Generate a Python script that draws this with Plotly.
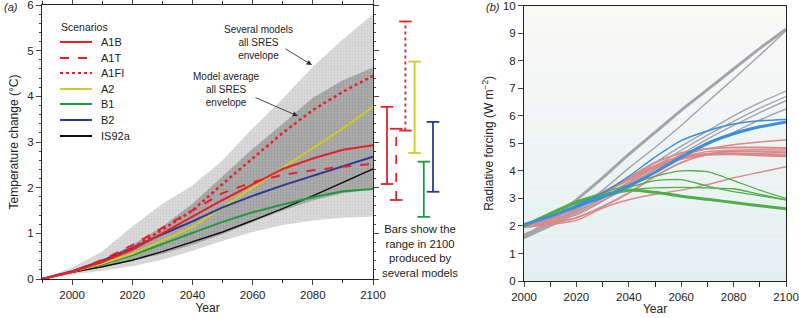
import plotly.graph_objects as go

W, H = 799, 318
def fx(p): return p / W
def fy(p): return 1 - p / H

# ---------------- Panel (a) data ----------------
years_a = [1990, 2000, 2010, 2020, 2030, 2040, 2050, 2060, 2070, 2080, 2090, 2100]
a1b  = [0, 0.16, 0.37, 0.64, 1.00, 1.36, 1.73, 2.07, 2.41, 2.64, 2.83, 2.93]
a1t  = [0, 0.16, 0.42, 0.74, 1.12, 1.50, 1.88, 2.12, 2.28, 2.38, 2.46, 2.52]
a1fi = [0, 0.16, 0.38, 0.68, 1.08, 1.50, 2.08, 2.65, 3.20, 3.70, 4.10, 4.45]
a2   = [0, 0.16, 0.34, 0.55, 0.84, 1.14, 1.57, 2.00, 2.43, 2.86, 3.30, 3.77]
b1   = [0, 0.16, 0.32, 0.52, 0.77, 1.01, 1.25, 1.46, 1.63, 1.79, 1.92, 1.97]
b2   = [0, 0.17, 0.40, 0.68, 0.98, 1.26, 1.57, 1.82, 2.05, 2.26, 2.48, 2.68]
is92a= [0, 0.15, 0.27, 0.41, 0.60, 0.82, 1.03, 1.28, 1.54, 1.82, 2.12, 2.41]

outer_hi = [0, 0.25, 0.60, 1.15, 1.65, 2.05, 2.60, 3.30, 3.95, 4.65, 5.25, 5.80]
outer_lo = [0, 0.10, 0.18, 0.28, 0.42, 0.62, 0.84, 1.03, 1.18, 1.28, 1.34, 1.37]
inner_hi = [0, 0.18, 0.42, 0.75, 1.15, 1.65, 2.25, 2.85, 3.40, 3.97, 4.35, 4.63]
inner_lo = [0, 0.13, 0.25, 0.40, 0.55, 0.75, 0.98, 1.25, 1.50, 1.72, 1.88, 1.97]

bar_names = ["A1B", "A1T", "A1FI", "A2", "B1", "B2"]
bar_low   = [2.08, 1.73, 3.25, 2.76, 1.36, 1.91]
bar_high  = [3.77, 3.29, 5.64, 4.76, 2.57, 3.44]

# ---------------- Panel (b) data ----------------
years_b = [2000, 2010, 2020, 2030, 2040, 2050, 2060, 2070, 2080, 2090, 2100]
gray_thick = [1.60, 2.20, 2.95, 3.75, 4.60, 5.40, 6.20, 6.95, 7.70, 8.45, 9.15]
gray_1 = [1.55, 2.00, 2.60, 3.30, 4.10, 4.85, 5.65, 6.50, 7.35, 8.20, 9.10]
gray_2 = [1.65, 2.10, 2.60, 3.15, 3.70, 4.30, 4.90, 5.45, 6.00, 6.48, 6.90]
gray_3 = [1.60, 2.05, 2.50, 3.00, 3.55, 4.15, 4.75, 5.30, 5.80, 6.28, 6.70]
gray_4 = [1.70, 2.10, 2.55, 3.00, 3.50, 4.05, 4.60, 5.15, 5.65, 6.12, 6.55]
gray_5 = [1.55, 1.98, 2.45, 2.92, 3.40, 3.92, 4.45, 4.95, 5.40, 5.85, 6.25]

pink_1 = [2.00, 2.30, 2.70, 3.20, 3.70, 4.20, 4.55, 4.80, 4.95, 5.05, 5.12]
pink_2 = [2.00, 2.25, 2.65, 3.15, 3.75, 4.30, 4.65, 4.80, 4.85, 4.85, 4.83]
pink_3 = [2.00, 2.30, 2.70, 3.20, 3.70, 4.15, 4.45, 4.60, 4.62, 4.60, 4.58]
pink_4 = [1.95, 2.20, 2.55, 3.00, 3.60, 4.10, 4.45, 4.60, 4.60, 4.55, 4.52]
pink_5 = [1.95, 2.15, 2.40, 2.90, 3.50, 4.05, 4.50, 4.70, 4.75, 4.77, 4.76]
pink_6 = [1.95, 2.05, 2.20, 2.65, 2.95, 3.15, 3.30, 3.50, 3.75, 3.95, 4.15]
pink_7 = [1.95, 2.10, 2.30, 2.70, 3.20, 3.80, 4.30, 4.60, 4.72, 4.70, 4.68]

green_thick = [2.00, 2.45, 2.85, 3.10, 3.30, 3.22, 3.08, 2.97, 2.85, 2.73, 2.62]
green_1 = [2.00, 2.45, 2.90, 3.20, 3.50, 3.80, 4.00, 3.97, 3.65, 3.30, 3.00]
green_2 = [2.00, 2.45, 2.90, 3.15, 3.40, 3.65, 3.68, 3.45, 3.25, 3.10, 2.95]
green_3 = [2.00, 2.45, 2.85, 3.10, 3.30, 3.38, 3.40, 3.38, 3.35, 3.15, 2.95]

blue_thick = [2.05, 2.35, 2.70, 3.05, 3.45, 3.95, 4.50, 5.00, 5.35, 5.60, 5.78]
blue_thin  = [2.05, 2.35, 2.75, 3.20, 3.80, 4.50, 5.10, 5.45, 5.70, 5.82, 5.87]

RED = "#e8202a"; YEL = "#cccc22"; GRN = "#1f9a3e"; BLU = "#2b3a92"; BLK = "#111111"
FONT = "Liberation Sans, Arial, sans-serif"

fig = go.Figure()

# Envelopes
fig.add_trace(go.Scatter(x=years_a + years_a[::-1], y=outer_hi + outer_lo[::-1],
    fill="toself", mode="lines", line=dict(width=0), fillcolor="#d6d6d6",
    fillpattern=dict(shape=".", bgcolor="#dadada", fgcolor="#bdbdbd", size=3, solidity=0.3),
    showlegend=False, hoverinfo="skip"))
fig.add_trace(go.Scatter(x=years_a + years_a[::-1], y=inner_hi + inner_lo[::-1],
    fill="toself", mode="lines", line=dict(width=0), fillcolor="#a9a9a9",
    fillpattern=dict(shape=".", bgcolor="#ababab", fgcolor="#8c8c8c", size=3, solidity=0.3),
    showlegend=False, hoverinfo="skip"))

series_a = [
    ("IS92a", is92a, BLK, "solid", 1.5),
    ("B1", b1, GRN, "solid", 2),
    ("A2", a2, YEL, "solid", 2),
    ("B2", b2, BLU, "solid", 2),
    ("A1T", a1t, RED, "dash", 2),
    ("A1B", a1b, RED, "solid", 2),
    ("A1FI", a1fi, RED, "dot", 2.5),
]
for name, ys, col, dash, w in series_a:
    fig.add_trace(go.Scatter(x=years_a, y=ys, mode="lines", name=name,
        line=dict(color=col, dash=dash, width=w), showlegend=False))

bar_styles = {"A1B": (RED, "solid"), "A1T": (RED, "dash"), "A1FI": (RED, "dot"),
              "A2": (YEL, "solid"), "B1": (GRN, "solid"), "B2": (BLU, "solid")}
for n, lo, hi in zip(bar_names, bar_low, bar_high):
    col, dash = bar_styles[n]
    fig.add_trace(go.Scatter(x=[n, n], y=[lo, hi], xaxis="x3", yaxis="y",
        mode="lines+markers", cliponaxis=False,
        line=dict(color=col, dash=dash, width=1.8),
        marker=dict(symbol="line-ew", size=9, line=dict(width=1.8, color=col)),
        showlegend=False))

# Panel b
GRAY = "#a3a4aa"; PINK = "#d98a8a"; LGRN = "#4fae46"; LBLU = "#3b8fd8"
for ys, w in [(gray_1, 1.4), (gray_2, 1.4), (gray_3, 1.4), (gray_4, 1.4), (gray_5, 1.4), (gray_thick, 3)]:
    fig.add_trace(go.Scatter(x=years_b, y=ys, xaxis="x2", yaxis="y2", mode="lines",
        line=dict(color=GRAY, width=w, shape="spline", smoothing=0.6), showlegend=False))
for ys, w in [(pink_1, 1.4), (pink_2, 2), (pink_3, 3), (pink_4, 1.4), (pink_5, 1.4), (pink_6, 1.4), (pink_7, 2)]:
    fig.add_trace(go.Scatter(x=years_b, y=ys, xaxis="x2", yaxis="y2", mode="lines",
        line=dict(color=PINK, width=w, shape="spline", smoothing=0.6), showlegend=False))
for ys, w in [(green_1, 1.3), (green_2, 1.3), (green_3, 1.3), (green_thick, 3)]:
    fig.add_trace(go.Scatter(x=years_b, y=ys, xaxis="x2", yaxis="y2", mode="lines",
        line=dict(color=LGRN, width=w, shape="spline", smoothing=0.6), showlegend=False))
for ys, w in [(blue_thin, 1.5), (blue_thick, 3)]:
    fig.add_trace(go.Scatter(x=years_b, y=ys, xaxis="x2", yaxis="y2", mode="lines",
        line=dict(color=LBLU, width=w, shape="spline", smoothing=0.6), showlegend=False))

# gradient background for panel b
shapes = []
N = 40
top = (250, 249, 247); bot = (226, 239, 241)
for i in range(N):
    t = (i + 0.5) / N
    c = tuple(int(round(bot[k] + (top[k] - bot[k]) * t)) for k in range(3))
    shapes.append(dict(type="rect", xref="x2 domain", yref="y2 domain", x0=0, x1=1,
        y0=i / N, y1=(i + 1) / N, fillcolor="rgb(%d,%d,%d)" % c, line=dict(width=0), layer="below"))

# manual legend
leg_items = [("A1B", RED, "solid", 42), ("A1T", RED, "dash", 58), ("A1FI", RED, "dot", 73),
             ("A2", YEL, "solid", 89), ("B1", GRN, "solid", 104), ("B2", BLU, "solid", 120),
             ("IS92a", BLK, "solid", 136)]
annotations = []
for lab, col, dash, yy in leg_items:
    shapes.append(dict(type="line", xref="paper", yref="paper", x0=fx(60), x1=fx(92),
        y0=fy(yy), y1=fy(yy), line=dict(color=col, dash=dash, width=2.2 if dash == "dot" else 2)))
    annotations.append(dict(text=lab, xref="paper", yref="paper", x=fx(99), y=fy(yy),
        xanchor="left", yanchor="middle", showarrow=False, font=dict(size=11, color="#222")))
annotations.append(dict(text="Scenarios", xref="paper", yref="paper", x=fx(59), y=fy(27),
    xanchor="left", yanchor="middle", showarrow=False, font=dict(size=10.5, color="#222")))

def txt(s, x, y, size=11, anchor="center", italic=False):
    annotations.append(dict(text=("<i>%s</i>" % s) if italic else s, xref="paper", yref="paper",
        x=fx(x), y=fy(y), xanchor=anchor, yanchor="middle", showarrow=False,
        font=dict(size=size, color="#222")))

txt("Several models<br>all SRES<br>envelope", 258, 43, 10)
txt("Model average<br>all SRES<br>envelope", 226, 90, 10)
txt("Bars show the<br>range in 2100<br>produced by<br>several models", 420, 251, 11.3)
txt("(a)", 2, 7, 11, "left", True)
txt("(b)", 484, 7, 11, "left", True)

# arrows
annotations.append(dict(text="", xref="paper", yref="paper", x=fx(312), y=fy(65),
    ax=-28, ay=-17, showarrow=True, arrowhead=2, arrowsize=1.2, arrowwidth=0.9, arrowcolor="#333"))
annotations.append(dict(text="", xref="paper", yref="paper", x=fx(298), y=fy(116),
    ax=-44, ay=-19, showarrow=True, arrowhead=2, arrowsize=1.2, arrowwidth=0.9, arrowcolor="#333"))

axfont = dict(size=11.5, color="#222", family=FONT)
fig.update_layout(
    width=W, height=H, margin=dict(l=0, r=0, t=0, b=0),
    paper_bgcolor="white", plot_bgcolor="rgba(0,0,0,0)",
    font=dict(family=FONT, color="#222"),
    shapes=shapes, annotations=annotations, showlegend=False,
    xaxis=dict(domain=[fx(42), fx(373)], range=[1990, 2100], anchor="y", automargin=False,
        tickvals=[2000, 2020, 2040, 2060, 2080, 2100], ticks="outside", ticklen=5,
        showline=True, linecolor="#222", linewidth=1, mirror="ticks", showgrid=False, zeroline=False,
        minor=dict(dtick=10, tick0=1990, ticks="outside", ticklen=3, tickcolor="#222"),
        ticklabeloverflow="allow",
        tickfont=axfont, title=dict(text="Year", font=dict(size=12), standoff=2)),
    yaxis=dict(domain=[fy(279), fy(5)], range=[0, 6], anchor="x", dtick=1, automargin=False,
        ticks="outside", ticklen=5, showline=True, linecolor="#222", mirror="ticks",
        showgrid=False, zeroline=False, ticklabeloverflow="allow",
        minor=dict(dtick=0.2, ticks="outside", ticklen=2, tickcolor="#444"),
        tickfont=axfont, title=dict(text="Temperature change (°C)", font=dict(size=12), standoff=6)),
    xaxis3=dict(domain=[fx(382.4), fx(437.6)], anchor="y", visible=False, type="category",
        categoryorder="array", categoryarray=bar_names, range=[-0.5, 5.5], automargin=False),
    xaxis2=dict(domain=[fx(524), fx(786)], range=[2000, 2100], anchor="y2", automargin=False,
        dtick=20, ticks="outside", ticklen=5, showline=True, linecolor="#222", mirror=True,
        showgrid=False, zeroline=False, ticklabeloverflow="allow",
        minor=dict(dtick=10, ticks="outside", ticklen=5, tickcolor="#222"),
        tickfont=axfont, title=dict(text="Year", font=dict(size=12), standoff=2)),
    yaxis2=dict(domain=[fy(281), fy(5.7)], range=[0, 10], anchor="x2", dtick=1, automargin=False,
        ticks="outside", ticklen=5, showline=True, linecolor="#222", mirror=True,
        showgrid=False, zeroline=False, tickfont=axfont, ticklabeloverflow="allow",
        title=dict(text="Radiative forcing (W m<sup>−2</sup>)", font=dict(size=12), standoff=6)),
)

fig.write_html("out.html", config={"displayModeBar": False},
               post_script="document.body.style.margin='0px';document.body.style.padding='0px';")
